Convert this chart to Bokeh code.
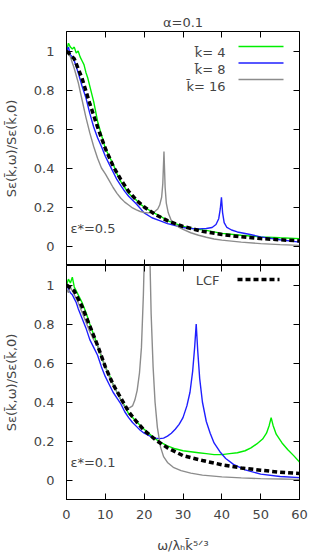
from bokeh.plotting import figure
from bokeh.models import (LinearAxis, FixedTicker, Label, Arrow, Range1d,
                          CustomJSTickFormatter)
from bokeh.layouts import column
from bokeh.embed import file_html
from bokeh.resources import INLINE

# ---------------- data ----------------
title_text = "α=0.1"
x_ticks = [0, 10, 20, 30, 40, 50, 60]
x_tick_labels = ["0", "10", "20", "30", "40", "50", "60"]
y_ticks = [0, 0.2, 0.4, 0.6, 0.8, 1]
y_tick_labels = ["0", "0.2", "0.4", "0.6", "0.8", "1"]
x_label = "ω/λₕk̄⁵ᐟ³"
y_label = "Sε(k̄,ω)/Sε(k̄,0)"
series_names = ["k̄= 4", "k̄= 8", "k̄= 16"]
lcf_name = "LCF"
panel_names = ["ε*=0.5", "ε*=0.1"]

# top panel (eps* = 0.5)
lcf05_w = [0, 2, 4, 6, 8, 10, 12, 14, 16, 18, 20, 23, 26, 30, 35, 40, 45, 50, 55, 60]
lcf05_s = [1.0, 0.96, 0.86, 0.73, 0.61, 0.50, 0.41, 0.34, 0.28, 0.235, 0.20, 0.16,
           0.13, 0.10, 0.075, 0.059, 0.047, 0.038, 0.032, 0.026]

k4_05_w = [0, 0.5, 1.0, 1.5, 2.0, 2.5, 3.0, 3.5, 4.0, 4.5, 5.0, 5.5, 6, 7, 8, 9, 10, 11,
           12, 13, 14, 15, 16, 17, 18, 19, 20, 22, 24, 26, 28, 30, 33, 36, 40, 45, 50, 55, 60]
k4_05_s = [1.0, 1.04, 1.02, 1.01, 1.02, 0.99, 1.0, 0.97, 0.95, 0.93, 0.89, 0.86, 0.82,
           0.74, 0.64, 0.57, 0.50, 0.46, 0.42, 0.37, 0.33, 0.30, 0.27, 0.25, 0.235, 0.215,
           0.20, 0.175, 0.155, 0.13, 0.115, 0.10, 0.088, 0.08, 0.065, 0.055, 0.047, 0.042, 0.038]

k8_05_w = [0, 0.5, 1, 1.5, 2, 2.5, 3, 4, 5, 6, 7, 8, 9, 10, 11, 12, 13, 14, 15, 16, 18,
           20, 22, 24, 26, 28, 30, 32, 34, 36, 37.5, 38.5, 39.2, 39.6, 39.9, 40.2, 40.6,
           41.3, 42.5, 44, 47, 50, 55, 60]
k8_05_s = [1.0, 1.02, 0.98, 0.97, 0.95, 0.92, 0.89, 0.82, 0.76, 0.68, 0.61, 0.555, 0.51,
           0.46, 0.42, 0.38, 0.34, 0.31, 0.28, 0.255, 0.215, 0.17, 0.145, 0.13, 0.115,
           0.105, 0.095, 0.09, 0.088, 0.09, 0.095, 0.11, 0.14, 0.19, 0.25, 0.17, 0.12,
           0.095, 0.082, 0.072, 0.06, 0.047, 0.032, 0.02]

k16_05_w = [0, 0.5, 1, 1.5, 2, 3, 4, 5, 6, 7, 8, 9, 10, 11, 12, 13, 14, 15, 16, 17, 18,
            19, 20, 21, 22, 22.8, 23.5, 24.0, 24.5, 24.8, 25.1, 25.4, 25.7, 26.2, 27, 28,
            29, 30, 32, 34, 36, 38, 40, 45, 50, 55, 60]
k16_05_s = [1.0, 0.99, 0.97, 0.94, 0.91, 0.84, 0.75, 0.66, 0.58, 0.51, 0.45, 0.40, 0.37,
            0.335, 0.30, 0.27, 0.245, 0.225, 0.21, 0.195, 0.185, 0.177, 0.172, 0.17,
            0.172, 0.178, 0.19, 0.21, 0.25, 0.32, 0.485, 0.30, 0.22, 0.17, 0.13, 0.11,
            0.095, 0.085, 0.068, 0.055, 0.045, 0.036, 0.03, 0.02, 0.012, 0.007, 0.003]

# bottom panel (eps* = 0.1)
lcf01_w = [0, 2, 4, 6, 8, 10, 12, 14, 16, 18, 20, 23, 26, 30, 35, 40, 45, 50, 55, 60]
lcf01_s = [1.0, 0.97, 0.89, 0.79, 0.69, 0.58, 0.49, 0.42, 0.35, 0.30, 0.255, 0.205,
           0.165, 0.125, 0.10, 0.078, 0.062, 0.05, 0.04, 0.033]

k4_01_w = [0, 0.5, 1, 1.5, 2, 2.5, 3, 3.5, 4, 5, 6, 7, 8, 9, 10, 11, 12, 13, 14, 15, 16,
           17, 18, 19, 20, 22, 24, 26, 28, 30, 32, 34, 36, 38, 40, 42, 44, 46, 47.5, 49,
           50.5, 51.5, 52.2, 52.7, 53.2, 54, 55.5, 57, 58.5, 60]
k4_01_s = [1.0, 1.03, 1.01, 1.04, 0.99, 0.97, 0.95, 0.93, 0.91, 0.86, 0.80, 0.745, 0.69,
           0.63, 0.58, 0.54, 0.49, 0.45, 0.41, 0.38, 0.34, 0.32, 0.30, 0.28, 0.26, 0.225,
           0.195, 0.175, 0.16, 0.15, 0.145, 0.14, 0.135, 0.13, 0.13, 0.135, 0.14, 0.15,
           0.165, 0.185, 0.21, 0.24, 0.28, 0.32, 0.28, 0.235, 0.19, 0.155, 0.125, 0.092]

k8_01_w = [0, 0.5, 1, 1.5, 2, 2.5, 3, 4, 5, 6, 7, 8, 9, 10, 11, 12, 13, 14, 15, 16, 17,
           18, 19, 20, 21, 22, 23, 24, 25, 26, 27, 28, 29, 30, 31, 31.8, 32.5, 33.0,
           33.4, 33.8, 34.3, 35, 36, 37, 38, 39.5, 41, 43, 46, 50, 55, 60]
k8_01_s = [1.0, 0.98, 0.96, 0.95, 0.93, 0.91, 0.88, 0.83, 0.78, 0.72, 0.68, 0.64, 0.58,
           0.53, 0.49, 0.45, 0.42, 0.39, 0.35, 0.32, 0.295, 0.275, 0.255, 0.24, 0.23,
           0.22, 0.215, 0.212, 0.215, 0.225, 0.24, 0.26, 0.285, 0.32, 0.38, 0.45, 0.56,
           0.68, 0.80, 0.66, 0.52, 0.40, 0.30, 0.24, 0.19, 0.145, 0.11, 0.08, 0.052,
           0.03, 0.018, 0.012]

k16_01_w = [0, 0.5, 1, 1.5, 2, 3, 4, 5, 6, 7, 8, 9, 10, 11, 12, 13, 14, 14.8, 15.5, 16.2,
            17, 17.6, 18.2, 18.8, 19.3, 19.8, 20.3, 20.8, 21.3, 21.8, 22.3, 22.8, 23.4,
            24.2, 25, 26, 27.5, 29.5, 32, 35, 40, 45, 50, 55, 60]
k16_01_s = [0.98, 0.96, 0.99, 0.97, 0.95, 0.91, 0.86, 0.81, 0.76, 0.72, 0.69, 0.64, 0.58,
            0.53, 0.49, 0.45, 0.41, 0.38, 0.37, 0.37, 0.38, 0.41, 0.46, 0.55, 0.68, 0.95,
            1.35, 1.7, 1.3, 0.85, 0.58, 0.40, 0.27, 0.17, 0.12, 0.09, 0.065, 0.048, 0.035,
            0.025, 0.016, 0.011, 0.007, 0.005, 0.003]

# ---------------- style ----------------
FONT = "DejaVu Sans"
FS = "13px"
colors = ["#00ee00", "#1f1fff", "#8c8c8c"]
X_RANGE = (0, 60)
Y_RANGE = (-0.1, 1.1)


def blank_formatter():
    return CustomJSTickFormatter(code="return ''")


def tick_axis(fixed, **kw):
    return LinearAxis(fixed_location=fixed, major_tick_in=6, major_tick_out=0,
                      minor_tick_in=0, minor_tick_out=0, formatter=blank_formatter(),
                      major_label_standoff=0, axis_line_color="black", **kw)


def make_fig(height, b_top, b_bottom, show_x_labels):
    p = figure(width=310, height=height,
               x_range=Range1d(*X_RANGE), y_range=Range1d(*Y_RANGE),
               x_axis_location=None, y_axis_location=None,
               output_backend="svg", toolbar_location=None,
               min_border_left=64, min_border_right=11,
               min_border_top=b_top, min_border_bottom=b_bottom)
    p.xgrid.visible = False
    p.ygrid.visible = False
    p.outline_line_color = "black"
    p.outline_line_width = 1
    p.background_fill_color = "white"
    p.border_fill_color = "white"

    left = LinearAxis(ticker=FixedTicker(ticks=y_ticks),
                      major_label_overrides=dict(zip(y_ticks, y_tick_labels)),
                      major_tick_in=6, major_tick_out=0, minor_tick_in=0, minor_tick_out=0,
                      major_label_standoff=12, axis_label=y_label,
                      axis_label_standoff=12,
                      axis_label_text_font=FONT, axis_label_text_font_size=FS,
                      axis_label_text_font_style="normal",
                      major_label_text_font=FONT, major_label_text_font_size=FS,
                      axis_line_color="black")
    p.add_layout(left, "left")
    p.add_layout(tick_axis(X_RANGE[1], ticker=FixedTicker(ticks=y_ticks)), "right")
    p.add_layout(tick_axis(Y_RANGE[1], ticker=FixedTicker(ticks=x_ticks)), "above")
    if show_x_labels:
        bottom = LinearAxis(ticker=FixedTicker(ticks=x_ticks),
                            major_label_overrides=dict(zip(x_ticks, x_tick_labels)),
                            major_tick_in=6, major_tick_out=0, minor_tick_in=0,
                            minor_tick_out=0, major_label_standoff=10,
                            axis_label=x_label, axis_label_standoff=16,
                            axis_label_text_font=FONT, axis_label_text_font_size=FS,
                            axis_label_text_font_style="normal",
                            major_label_text_font=FONT, major_label_text_font_size=FS,
                            axis_line_color="black")
        p.add_layout(bottom, "below")
    else:
        p.add_layout(tick_axis(Y_RANGE[0], ticker=FixedTicker(ticks=x_ticks)), "below")
    return p


top = make_fig(265, 31, 0, False)
bot = make_fig(292, 0, 58, True)

# title
top.title.text = title_text
top.title.align = "center"
top.title.vertical_align = "top"
top.title.text_font = FONT
top.title.text_font_size = FS
top.title.text_font_style = "normal"
top.title.standoff = 0

# curves
for p, w_list, s_list in [
    (top, [k4_05_w, k8_05_w, k16_05_w], [k4_05_s, k8_05_s, k16_05_s]),
    (bot, [k4_01_w, k8_01_w, k16_01_w], [k4_01_s, k8_01_s, k16_01_s]),
]:
    for w, s, c in zip(w_list, s_list, colors):
        p.line(w, s, line_color=c, line_width=1.4)

top.line(lcf05_w, lcf05_s, line_color="black", line_width=3.5, line_dash="5 3")
bot.line(lcf01_w, lcf01_s, line_color="black", line_width=3.5, line_dash="5 3")

# panel annotations
for p, t in zip([top, bot], panel_names):
    p.add_layout(Label(x=1.0, y=0.092, text=t, text_align="left", text_baseline="middle",
                       text_font=FONT, text_font_size=FS))

# legend (top): text, then the line sample to its right
leg_line_y = [219, 202.5, 186]
leg_text_y = [213, 196, 179.5]
for name, c, ly, ty in zip(series_names, colors, leg_line_y, leg_text_y):
    top.add_layout(Label(x=159, y=ty, x_units="screen", y_units="screen", text=name,
                         text_align="right", text_baseline="middle",
                         text_font=FONT, text_font_size=FS))
    top.add_layout(Arrow(end=None, x_start=172, y_start=ly, x_end=217, y_end=ly,
                         start_units="screen", end_units="screen",
                         line_color=c, line_width=1.6))

bot.add_layout(Label(x=153, y=219, x_units="screen", y_units="screen", text=lcf_name,
                     text_align="right", text_baseline="middle",
                     text_font=FONT, text_font_size=FS))
bot.add_layout(Arrow(end=None, x_start=171, y_start=220, x_end=213, y_end=220,
                     start_units="screen", end_units="screen",
                     line_color="black", line_width=3.5, line_dash="5 3"))

layout = column(top, bot, spacing=0)

open("out.html", "w").write(file_html(layout, INLINE))
